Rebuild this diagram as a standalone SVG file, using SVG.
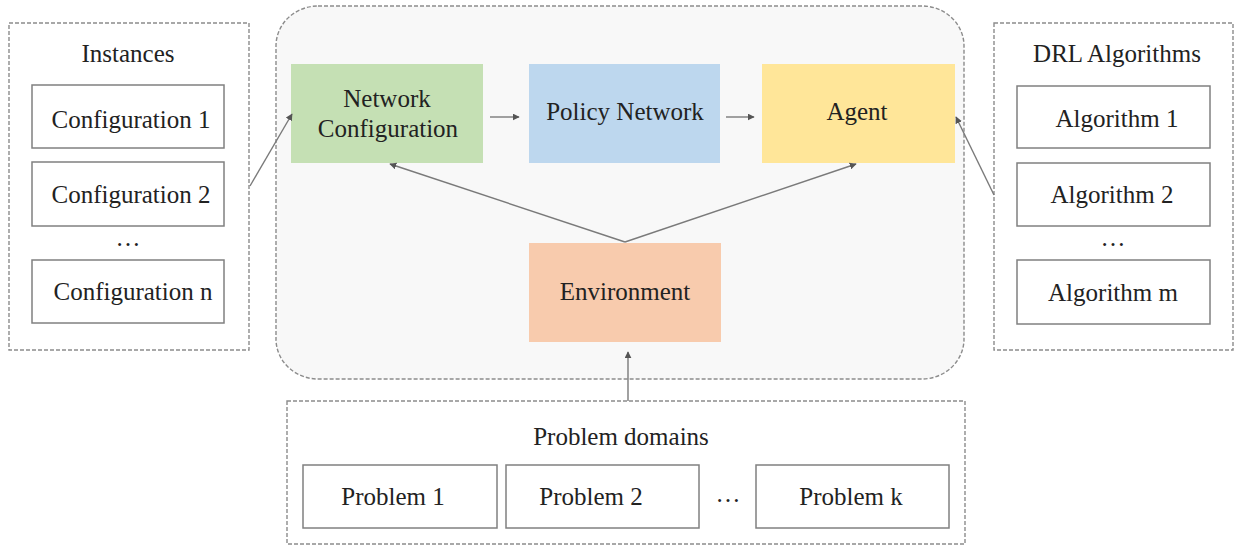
<svg xmlns="http://www.w3.org/2000/svg" width="1235" height="546" viewBox="0 0 1235 546">
<style>
text{font-family:"Liberation Serif","Times New Roman",serif;font-size:25px;fill:#222;text-anchor:middle}
.dash{fill:#fff;stroke:#8c8c8c;stroke-width:1.4;stroke-dasharray:4 2}
.item{fill:#fff;stroke:#808080;stroke-width:1.5}
.conn{stroke:#7a7a7a;stroke-width:1.4;fill:none;marker-end:url(#ah)}
</style>
<defs>
<marker id="ah" viewBox="0 0 10 10" refX="9" refY="5" markerWidth="7" markerHeight="7" markerUnits="userSpaceOnUse" orient="auto">
<path d="M0,0 L10,5 L0,10 z" fill="#555"/>
</marker>
</defs>
<rect width="1235" height="546" fill="#fff"/>
<g id="core">
<rect x="276" y="6" width="688" height="373" rx="42" ry="40" fill="#f8f8f8" stroke="#8c8c8c" stroke-width="1.4" stroke-dasharray="4 2"/>
</g>
<g id="instances">
<rect class="dash" x="9" y="23" width="240" height="327"/>
<text x="128" y="62">Instances</text>
</g>
<g id="config1"><rect class="item" x="32" y="85" width="192" height="63"/><text x="131" y="128">Configuration 1</text></g>
<g id="config2"><rect class="item" x="32" y="162" width="192" height="64"/><text x="131" y="203">Configuration 2</text></g>
<text x="128" y="246">…</text>
<g id="confign"><rect class="item" x="32" y="260" width="192" height="63"/><text x="133" y="300">Configuration n</text></g>
<g id="drl">
<rect class="dash" x="994" y="23" width="239" height="327"/>
<text x="1117" y="62">DRL Algorithms</text>
</g>
<g id="alg1"><rect class="item" x="1017" y="86" width="193" height="62"/><text x="1117" y="127">Algorithm 1</text></g>
<g id="alg2"><rect class="item" x="1017" y="163" width="193" height="63"/><text x="1112" y="203">Algorithm 2</text></g>
<text x="1113" y="246">…</text>
<g id="algm"><rect class="item" x="1017" y="260" width="193" height="64"/><text x="1113" y="301">Algorithm m</text></g>
<g id="netconf"><rect x="291" y="64" width="192" height="99" fill="#c5e0b4"/><text x="387" y="107">Network</text><text x="388" y="137">Configuration</text></g>
<g id="policy"><rect x="529" y="64" width="191" height="99" fill="#bdd7ee"/><text x="625" y="120">Policy Network</text></g>
<g id="agent"><rect x="762" y="64" width="193" height="99" fill="#ffe699"/><text x="857" y="120">Agent</text></g>
<g id="env"><rect x="529" y="243" width="192" height="99" fill="#f8cbad"/><text x="625" y="300">Environment</text></g>
<g id="domains">
<rect class="dash" x="287" y="401" width="678" height="143"/>
<text x="621" y="445">Problem domains</text>
</g>
<g id="p1"><rect class="item" x="303" y="465" width="194" height="63"/><text x="393" y="505">Problem 1</text></g>
<g id="p2"><rect class="item" x="506" y="465" width="193" height="63"/><text x="591" y="505">Problem 2</text></g>
<text x="728" y="502">…</text>
<g id="pk"><rect class="item" x="756" y="465" width="193" height="63"/><text x="851" y="505">Problem k</text></g>
<g id="connectors">
<line class="conn" x1="490" y1="117" x2="519" y2="117"/>
<line class="conn" x1="726" y1="117" x2="754" y2="117"/>
<line class="conn" x1="625" y1="242" x2="390" y2="164"/>
<line class="conn" x1="625" y1="242" x2="856" y2="164"/>
<line class="conn" x1="628" y1="401" x2="628" y2="352"/>
<line class="conn" x1="250" y1="186" x2="292" y2="114"/>
<line class="conn" x1="994" y1="195" x2="956" y2="117"/>
</g>
</svg>
